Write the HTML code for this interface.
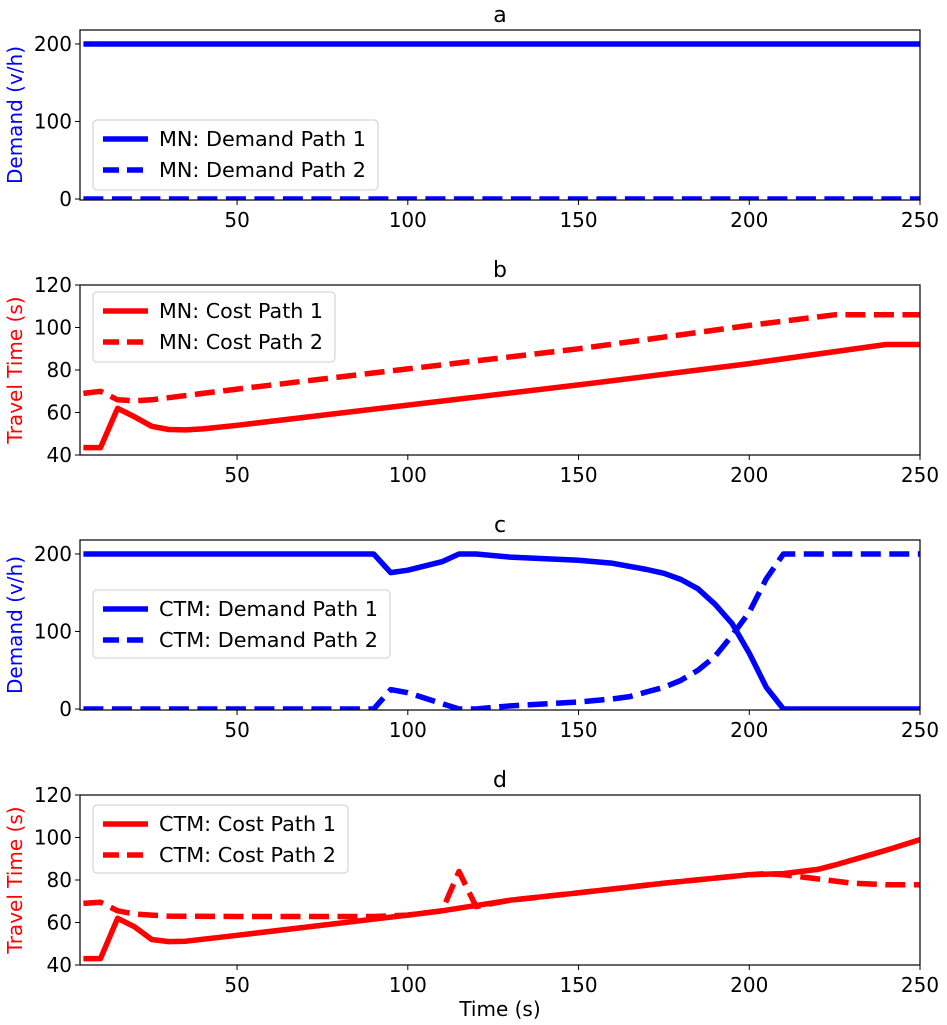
<!DOCTYPE html>
<html><head><meta charset="utf-8"><style>body{margin:0;background:#fff}svg{display:block}text{font-family:"DejaVu Sans","Liberation Sans",sans-serif}</style></head>
<body>
<svg id="chart" width="947" height="1025"></svg>
<script>
const tA=[5,250];
const mnDemand1=[200,200];
const mnDemand2=[0,0];
const tB1=[5,10,15,20,25,30,35,40,50,100,150,200,240,250];
const mnCost1=[43.5,43.5,62,58,53.5,52,51.8,52.3,54,63.5,73,83,92,92];
const tB2=[5,10,15,20,25,50,100,150,200,225,250];
const mnCost2=[69,70,66,65.5,66,71,80.5,90,101,106,106];
const tC1=[5,90,95,100,110,115,120,130,150,160,170,175,180,185,190,195,200,205,210,250];
const ctmDemand1=[200,200,176,179,190,200,200,196,192,188,180,175,167,155,135,110,72,28,0,0];
const tC2=[5,90,95,100,110,115,120,130,150,160,165,170,175,180,185,190,195,200,205,210,250];
const ctmDemand2=[0,0,25,21,7,0,0,4,9,13,16,22,28,37,50,68,95,125,168,200,200];
const tD1=[5,10,15,20,25,30,35,50,100,110,130,150,175,200,210,220,225,240,250];
const ctmCost1=[43,43,62,58,52,51,51.2,54,63.5,65.5,70.5,74,78.5,82.5,83,85,87,94,99];
const tD2=[5,10,15,20,25,30,50,90,100,110,115,120,130,150,175,200,205,210,220,230,240,250];
const ctmCost2=[69,69.5,65.5,64,63.5,63,62.8,62.8,63.5,65.5,84,67.5,70.5,74,78.5,82.5,83,82.5,80.5,78.5,77.8,77.8];
const xTicks=[50,100,150,200,250];

const svg=document.getElementById('chart');
const NS='http://www.w3.org/2000/svg';
function mk(tag,attrs,parent){const e=document.createElementNS(NS,tag);for(const k in attrs)e.setAttribute(k,attrs[k]);(parent||svg).appendChild(e);return e;}
const X0=80,X1=920,XMIN=4,XMAX=250;
const xs=v=>X0+(v-XMIN)/(XMAX-XMIN)*(X1-X0);

const panels=[
 {id:'a',top:30,bot:200,y0:-1.3,y1:218,yt:[0,100,200],ylab:'Demand (v/h)',col:'#0000ff',
  series:[{t:tA,v:mnDemand1,d:false,n:'MN: Demand Path 1'},{t:tA,v:mnDemand2,d:true,n:'MN: Demand Path 2'}],leg:[93,120,285,70]},
 {id:'b',top:285,bot:455,y0:40,y1:120,yt:[40,60,80,100,120],ylab:'Travel Time (s)',col:'#ff0000',
  series:[{t:tB1,v:mnCost1,d:false,n:'MN: Cost Path 1'},{t:tB2,v:mnCost2,d:true,n:'MN: Cost Path 2'}],leg:[93,292,242,70]},
 {id:'c',top:540,bot:710,y0:-1.3,y1:218,yt:[0,100,200],ylab:'Demand (v/h)',col:'#0000ff',
  series:[{t:tC1,v:ctmDemand1,d:false,n:'CTM: Demand Path 1'},{t:tC2,v:ctmDemand2,d:true,n:'CTM: Demand Path 2'}],leg:[93,590,297,68]},
 {id:'d',top:795,bot:965,y0:40,y1:120,yt:[40,60,80,100,120],ylab:'Travel Time (s)',col:'#ff0000',
  series:[{t:tD1,v:ctmCost1,d:false,n:'CTM: Cost Path 1'},{t:tD2,v:ctmCost2,d:true,n:'CTM: Cost Path 2'}],leg:[93,805,255,68]}
];

panels.forEach(p=>{
 const g=mk('g',{});
 
 
 const ys=v=>p.bot-(v-p.y0)/(p.y1-p.y0)*(p.bot-p.top);
 const cp=mk('clipPath',{id:'cp'+p.id},g);
 mk('rect',{x:X0,y:p.top,width:X1-X0,height:p.bot-p.top},cp);
 const lines=mk('g',{'clip-path':'url(#cp'+p.id+')'},g);
 p.series.forEach((s,i)=>{
  const pts=s.t.map((t,k)=>xs(t).toFixed(1)+','+ys(s.v[k]).toFixed(1)).join(' ');
  const pl=mk('polyline',{points:pts,fill:'none',stroke:p.col,'stroke-width':5.5,'stroke-linejoin':'round'},lines);
  if(s.d)pl.setAttribute('stroke-dasharray','20 8.5');
  
  
 });
 const fr=mk('rect',{x:X0,y:p.top,width:X1-X0,height:p.bot-p.top,fill:'none',stroke:'#000','stroke-width':1.2},g);
 
 
 const ti=mk('text',{x:500,y:p.top-8,'font-size':22,'text-anchor':'middle'},g);ti.textContent=p.id;
 
 
 xTicks.forEach(t=>{
  mk('line',{x1:xs(t),x2:xs(t),y1:p.bot,y2:p.bot+5,stroke:'#000'},g);
  const tx=mk('text',{x:xs(t),y:p.bot+27,'font-size':20,'text-anchor':'middle'},g);tx.textContent=t;
  
  
 });
 p.yt.forEach(t=>{
  mk('line',{x1:X0-5,x2:X0,y1:ys(t),y2:ys(t),stroke:'#000'},g);
  const tx=mk('text',{x:X0-8,y:ys(t)+7,'font-size':20,'text-anchor':'end'},g);tx.textContent=t;
  
  
 });
 const cy=(p.top+p.bot)/2;
 const yl=mk('text',{x:22,y:cy,'font-size':20,'text-anchor':'middle',fill:p.col,transform:'rotate(-90 22 '+cy+')'},g);yl.textContent=p.ylab;
 
 
 const [lx,ly,lw,lh]=p.leg;
 const lg=mk('g',{},g);
 
 
 mk('rect',{x:lx,y:ly,width:lw,height:lh,rx:4,fill:'#fff','fill-opacity':0.85,stroke:'#ccc'},lg);
 p.series.forEach((s,i)=>{
  const yy=ly+19+i*31;
  const l=mk('line',{x1:lx+10,x2:lx+55,y1:yy,y2:yy,stroke:p.col,'stroke-width':5.5},lg);
  if(s.d)l.setAttribute('stroke-dasharray','16 8');
  const tx=mk('text',{x:lx+66,y:yy+7,'font-size':20,textLength:lw-78,lengthAdjust:'spacingAndGlyphs'},lg);tx.textContent=s.n;
  
  
 });
});
const xl=mk('text',{x:500,y:1016,'font-size':20,'text-anchor':'middle'});xl.textContent='Time (s)';


</script>
</body></html>
